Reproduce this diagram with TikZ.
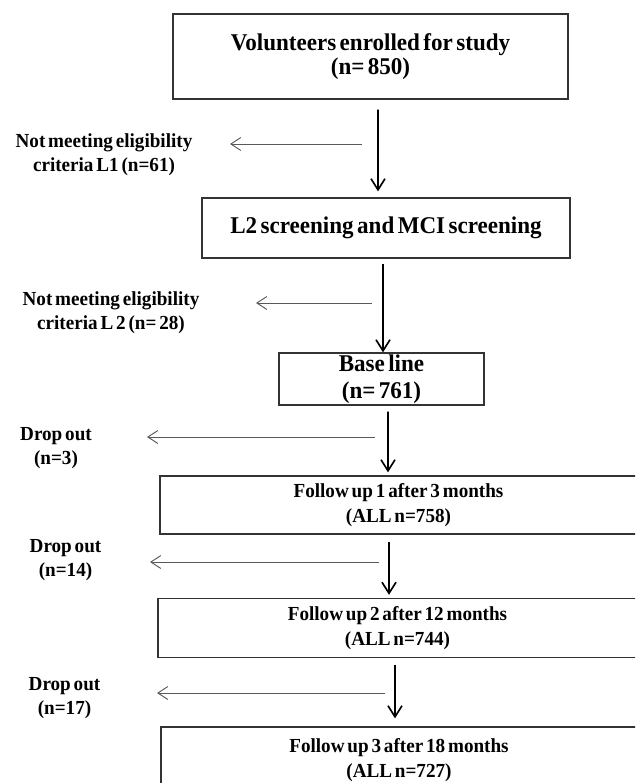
\documentclass[tikz,border=0pt]{standalone}
\usepackage{fontspec}
\setmainfont[WordSpace=0.6,FakeStretch=0.96]{Liberation Serif}
\usetikzlibrary{arrows.meta}
\begin{document}
\begin{tikzpicture}[x=0.03cm,y=-0.03cm]

	\tikzstyle{big-box}=[draw=black!80,line width=1.1pt,align=center,inner sep=0pt,font=\fontsize{20.5}{21}\selectfont\bfseries]
	\tikzstyle{fu-box}=[draw=black!80,line width=1.1pt,align=center,inner sep=0pt,font=\fontsize{17}{21}\selectfont\bfseries]
	\tikzstyle{annot}=[align=center,inner sep=0pt,font=\fontsize{17}{20.5}\selectfont\bfseries]
	\tikzstyle{down}=[-{Straight Barb[length=9.5pt,width=12pt]},line width=1.4pt]
	\tikzstyle{side}=[-{Straight Barb[length=8.5pt,width=11pt]},line width=0.8pt,draw=black!65]
	\useasboundingbox (0,0) rectangle (635,783);
	\clip (0,0) rectangle (635,783);

	% boxes
	\node[big-box,minimum width=11.85cm,minimum height=2.55cm] (enrolled) at (370.5,56.5) {Volunteers enrolled for study\\(n= 850)};
	\node[big-box,minimum width=11.04cm,minimum height=1.8cm] (screening) at (386,228) {L2 screening and MCI screening};
	\node[big-box,minimum width=6.15cm,minimum height=1.56cm,font=\fontsize{20.5}{23.5}\selectfont\bfseries] (baseline) at (381.5,379) {Base line\\(n= 761)};
	\node[fu-box,minimum width=14.31cm,minimum height=1.74cm] (follow1) at (398.5,505) {Follow up 1 after 3 months\\(ALL n=758)};
	\node[fu-box,minimum width=14.37cm,minimum height=1.77cm] (follow2) at (397.5,628) {Follow up 2 after 12 months\\(ALL n=744)};
	\node[fu-box,minimum width=14.28cm,minimum height=1.98cm] (follow3) at (399,760) {Follow up 3 after 18 months\\(ALL n=727)};

	% labels
	\node[annot] (l1label) at (104,154.5) {Not meeting eligibility\\criteria L1 (n=61)};
	\node[annot] (l2label) at (111,313) {Not meeting eligibility\\criteria L 2 (n= 28)};
	\node[annot] (drop1) at (56,448) {Drop out\\(n=3)};
	\node[annot] (drop2) at (65.5,560) {Drop out\\(n=14)};
	\node[annot] (drop3) at (64.5,698) {Drop out\\(n=17)};

	% main flow
	\draw[down] ([xshift=.225cm,yshift=-.3cm]enrolled.south) -- ([xshift=-.24cm,yshift=.18cm]screening.north);
	\draw[down] ([xshift=-.09cm,yshift=-.15cm]screening.south) -- ([xshift=.045cm]baseline.north);
	\draw[down] ([xshift=.195cm,yshift=-.18cm]baseline.south) -- ([xshift=-.315cm,yshift=.09cm]follow1.north);
	\draw[down] ([xshift=-.285cm,yshift=-.21cm]follow1.south) -- ([xshift=-.255cm,yshift=.09cm]follow2.north);
	\draw[down] ([xshift=-.075cm,yshift=-.21cm]follow2.south) -- ([xshift=-.12cm,yshift=.24cm]follow3.north);

	% exclusions
	\coordinate (s1) at (362,144);
	\coordinate (e1) at (230,144);
	\coordinate (s2) at (372,303);
	\coordinate (e2) at (256,303);
	\coordinate (s3) at (375,437);
	\coordinate (e3) at (147,437);
	\coordinate (s4) at (379,562);
	\coordinate (e4) at (150,562);
	\coordinate (s5) at (385,693);
	\coordinate (e5) at (157,693);
	\draw[side] (s1) -- (e1);
	\draw[side] (s2) -- (e2);
	\draw[side] (s3) -- (e3);
	\draw[side] (s4) -- (e4);
	\draw[side] (s5) -- (e5);
\end{tikzpicture}
\end{document}
